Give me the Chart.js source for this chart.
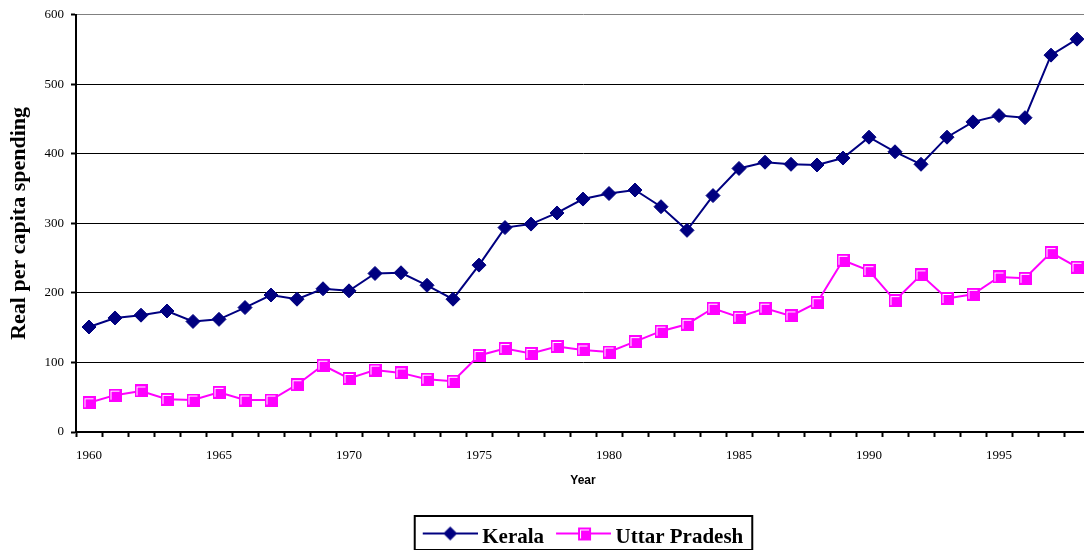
<!DOCTYPE html>
<html>
<head>
<meta charset="utf-8">
<script src="https://cdn.jsdelivr.net/npm/chart.js@4/dist/chart.umd.min.js"></script>
<style>
html,body{margin:0;padding:0;overflow:hidden;background:#fff;}
canvas{display:block;}
</style>
</head>
<body>
<canvas id="c" width="1098" height="550"></canvas>
<script>
const years = ['1960','1961','1962','1963','1964','1965','1966','1967','1968','1969',
  '1970','1971','1972','1973','1974','1975','1976','1977','1978','1979',
  '1980','1981','1982','1983','1984','1985','1986','1987','1988','1989',
  '1990','1991','1992','1993','1994','1995','1996','1997','1998'];
const kerala = [151,164,168,174,159,162,179,197,191,206,
  203,228,229,211,191,240,294,299,315,335,
  343,348,324,290,340,379,388,385,384,394,
  424,403,385,424,446,455,452,542,565];
const uttarPradesh = [42,53,59,47,46,57,46,46,68,96,
  77,89,85,76,73,110,120,113,123,118,
  115,130,145,155,178,165,178,167,186,247,
  232,189,226,192,198,223,221,258,237];
const labelledYears = ['1960','1965','1970','1975','1980','1985','1990','1995'];
const yTickValues = [0,100,200,300,400,500,600];

const NAVY = '#000080';
const MAGENTA = '#FF00FF';

function squareMarker() {
  const s = 13;
  const c = document.createElement('canvas');
  c.width = s; c.height = s;
  const g = c.getContext('2d');
  g.fillStyle = MAGENTA;
  g.fillRect(0, 0, s, s);
  g.fillStyle = '#FFFFFF';
  g.fillRect(2, 2, s - 4, 1);
  g.fillRect(2, 2, 1, s - 4);
  return c;
}
const sq = squareMarker();

function legendIcon(color, kind) {
  const W = 61, H = 24, cy = 8;
  const c = document.createElement('canvas');
  c.width = W; c.height = H;
  const g = c.getContext('2d');
  g.strokeStyle = color; g.lineWidth = 2;
  g.beginPath(); g.moveTo(6, cy); g.lineTo(W, cy); g.stroke();
  const cx = (6 + W) / 2;
  if (kind === 'diamond') {
    g.fillStyle = color;
    g.beginPath();
    g.moveTo(cx, cy - 7); g.lineTo(cx + 7, cy); g.lineTo(cx, cy + 7); g.lineTo(cx - 7, cy);
    g.closePath(); g.fill();
  } else {
    g.drawImage(sq, Math.round(cx - 6), cy - 6);
  }
  return c;
}
const legendIcons = [legendIcon(NAVY, 'diamond'), legendIcon(MAGENTA, 'square')];

const legendFrame = {
  id: 'legendFrame',
  afterDraw(chart) {
    const hb = chart.legend && chart.legend.legendHitBoxes;
    if (!hb || !hb.length) return;
    const first = hb[0], last = hb[hb.length - 1];
    const left = first.left - 8;
    const right = last.left + last.width + 9;
    const top = first.top - 11;
    const bottom = first.top + 23;
    const ctx = chart.ctx;
    ctx.save();
    ctx.strokeStyle = '#000';
    ctx.lineWidth = 2;
    ctx.strokeRect(left, top, right - left, bottom - top);
    ctx.restore();
  }
};

Chart.defaults.font.family = '"Liberation Serif", "Times New Roman", serif';
Chart.defaults.color = '#000';

new Chart(document.getElementById('c'), {
  type: 'line',
  data: {
    labels: years,
    datasets: [
      {
        label: 'Kerala',
        data: kerala,
        borderColor: NAVY,
        backgroundColor: NAVY,
        borderWidth: 2,
        pointStyle: 'rectRot',
        pointRadius: 7,
        pointBorderWidth: 1,
        pointBackgroundColor: NAVY,
        pointBorderColor: NAVY,
        tension: 0
      },
      {
        label: 'Uttar Pradesh',
        data: uttarPradesh,
        borderColor: MAGENTA,
        backgroundColor: MAGENTA,
        borderWidth: 2,
        pointStyle: sq,
        pointRadius: 6,
        tension: 0
      }
    ]
  },
  options: {
    responsive: false,
    animation: false,
    devicePixelRatio: 1,
    layout: { padding: { top: 14, left: 0, right: 0, bottom: -8 } },
    plugins: {
      tooltip: { enabled: false },
      legend: {
        position: 'bottom',
        fullSize: false,
        labels: {
          usePointStyle: true,
          pointStyleWidth: 49,
          boxHeight: 22,
          padding: 12,
          color: '#000',
          font: { family: '"Liberation Serif"', size: 21, weight: 'bold' },
          generateLabels(chart) {
            return chart.data.datasets.map((ds, i) => ({
              text: ds.label,
              pointStyle: legendIcons[i],
              fillStyle: ds.borderColor,
              strokeStyle: ds.borderColor,
              lineWidth: 0,
              hidden: false,
              datasetIndex: i
            }));
          }
        }
      }
    },
    scales: {
      x: {
        type: 'category',
        offset: true,
        afterFit(scale) { scale.height = 83; },
        grid: {
          offset: true,
          drawOnChartArea: false,
          drawTicks: true,
          tickLength: 5,
          tickColor: '#000',
          tickWidth: 2,
          color: '#000'
        },
        border: { color: '#000', width: 2 },
        ticks: {
          autoSkip: false,
          maxRotation: 0,
          minRotation: 0,
          padding: 11,
          color: '#000',
          font: { family: '"Liberation Serif"', size: 13 },
          callback(value, index) {
            const lab = this.getLabelForValue(value);
            return labelledYears.includes(lab) ? lab : '';
          }
        },
        title: {
          display: true,
          text: 'Year',
          color: '#000',
          font: { family: '"Liberation Sans", Arial, sans-serif', size: 12, weight: 'bold' },
          padding: { top: 0, bottom: 27 }
        }
      },
      y: {
        min: 0,
        max: 600,
        afterFit(scale) { scale.width = 76; },
        afterBuildTicks(scale) { scale.ticks = yTickValues.map(v => ({ value: v })); },
        grid: {
          color: ctx => (ctx.tick && ctx.tick.value === 600) ? '#808080' : '#000',
          lineWidth: 1,
          drawTicks: true,
          tickLength: 5,
          tickColor: '#000',
          tickWidth: 2
        },
        border: { color: '#000', width: 2 },
        ticks: {
          padding: 7,
          color: '#000',
          font: { family: '"Liberation Serif"', size: 13 }
        },
        title: {
          display: true,
          text: 'Real per capita spending',
          color: '#000',
          font: { family: '"Liberation Serif"', size: 22, weight: 'bold' },
          padding: { top: 6, bottom: 0 }
        }
      }
    }
  },
  plugins: [legendFrame]
});
</script>
</body>
</html>
